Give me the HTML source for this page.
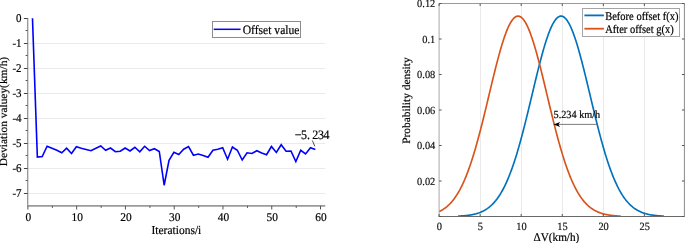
<!DOCTYPE html>
<html><head><meta charset="utf-8"><style>
html,body{margin:0;padding:0;background:#fff;}
body{width:685px;height:243px;overflow:hidden;}
svg{will-change:transform;display:block;font-family:"Liberation Serif",serif;}
text{stroke-width:0.18px;text-rendering:geometricPrecision;}
</style></head><body>
<svg width="685" height="243" viewBox="0 0 685 243">
<line x1="27.60" y1="43.5" x2="325.20" y2="43.5" stroke="#eaeaea" stroke-width="1"/>
<line x1="27.60" y1="68.5" x2="325.20" y2="68.5" stroke="#eaeaea" stroke-width="1"/>
<line x1="27.60" y1="93.5" x2="325.20" y2="93.5" stroke="#eaeaea" stroke-width="1"/>
<line x1="27.60" y1="118.5" x2="325.20" y2="118.5" stroke="#eaeaea" stroke-width="1"/>
<line x1="27.60" y1="143.5" x2="325.20" y2="143.5" stroke="#eaeaea" stroke-width="1"/>
<line x1="27.60" y1="168.5" x2="325.20" y2="168.5" stroke="#eaeaea" stroke-width="1"/>
<line x1="27.60" y1="193.5" x2="325.20" y2="193.5" stroke="#eaeaea" stroke-width="1"/>
<line x1="27.70" y1="18.00" x2="27.70" y2="205.90" stroke="#949494" stroke-width="1.3"/>
<line x1="27.00" y1="205.90" x2="325.20" y2="205.90" stroke="#9a9a9a" stroke-width="1.6"/>
<line x1="23.90" y1="18.5" x2="27.60" y2="18.5" stroke="#444" stroke-width="1"/>
<text transform="translate(21.60,22.40) scale(1,1.08)" font-size="11" text-anchor="end" fill="#000" stroke="#000" stroke-width="0.05">0</text>
<line x1="23.90" y1="43.5" x2="27.60" y2="43.5" stroke="#444" stroke-width="1"/>
<text transform="translate(21.60,47.40) scale(1,1.08)" font-size="11" text-anchor="end" fill="#000" stroke="#000" stroke-width="0.05">1</text>
<text transform="translate(16.10,47.40) scale(1,1.08)" font-size="11" text-anchor="end" fill="#000" stroke="#000" stroke-width="0.05">-</text>
<line x1="23.90" y1="68.5" x2="27.60" y2="68.5" stroke="#444" stroke-width="1"/>
<text transform="translate(21.60,72.40) scale(1,1.08)" font-size="11" text-anchor="end" fill="#000" stroke="#000" stroke-width="0.05">2</text>
<text transform="translate(16.10,72.40) scale(1,1.08)" font-size="11" text-anchor="end" fill="#000" stroke="#000" stroke-width="0.05">-</text>
<line x1="23.90" y1="93.5" x2="27.60" y2="93.5" stroke="#444" stroke-width="1"/>
<text transform="translate(21.60,97.40) scale(1,1.08)" font-size="11" text-anchor="end" fill="#000" stroke="#000" stroke-width="0.05">3</text>
<text transform="translate(16.10,97.40) scale(1,1.08)" font-size="11" text-anchor="end" fill="#000" stroke="#000" stroke-width="0.05">-</text>
<line x1="23.90" y1="118.5" x2="27.60" y2="118.5" stroke="#444" stroke-width="1"/>
<text transform="translate(21.60,122.40) scale(1,1.08)" font-size="11" text-anchor="end" fill="#000" stroke="#000" stroke-width="0.05">4</text>
<text transform="translate(16.10,122.40) scale(1,1.08)" font-size="11" text-anchor="end" fill="#000" stroke="#000" stroke-width="0.05">-</text>
<line x1="23.90" y1="143.5" x2="27.60" y2="143.5" stroke="#444" stroke-width="1"/>
<text transform="translate(21.60,147.40) scale(1,1.08)" font-size="11" text-anchor="end" fill="#000" stroke="#000" stroke-width="0.05">5</text>
<text transform="translate(16.10,147.40) scale(1,1.08)" font-size="11" text-anchor="end" fill="#000" stroke="#000" stroke-width="0.05">-</text>
<line x1="23.90" y1="168.5" x2="27.60" y2="168.5" stroke="#444" stroke-width="1"/>
<text transform="translate(21.60,172.40) scale(1,1.08)" font-size="11" text-anchor="end" fill="#000" stroke="#000" stroke-width="0.05">6</text>
<text transform="translate(16.10,172.40) scale(1,1.08)" font-size="11" text-anchor="end" fill="#000" stroke="#000" stroke-width="0.05">-</text>
<line x1="23.90" y1="193.5" x2="27.60" y2="193.5" stroke="#444" stroke-width="1"/>
<text transform="translate(21.60,197.40) scale(1,1.08)" font-size="11" text-anchor="end" fill="#000" stroke="#000" stroke-width="0.05">7</text>
<text transform="translate(16.10,197.40) scale(1,1.08)" font-size="11" text-anchor="end" fill="#000" stroke="#000" stroke-width="0.05">-</text>
<line x1="25.60" y1="30.5" x2="27.60" y2="30.5" stroke="#555" stroke-width="1"/>
<line x1="25.60" y1="55.5" x2="27.60" y2="55.5" stroke="#555" stroke-width="1"/>
<line x1="25.60" y1="80.5" x2="27.60" y2="80.5" stroke="#555" stroke-width="1"/>
<line x1="25.60" y1="105.5" x2="27.60" y2="105.5" stroke="#555" stroke-width="1"/>
<line x1="25.60" y1="130.5" x2="27.60" y2="130.5" stroke="#555" stroke-width="1"/>
<line x1="25.60" y1="155.5" x2="27.60" y2="155.5" stroke="#555" stroke-width="1"/>
<line x1="25.60" y1="180.5" x2="27.60" y2="180.5" stroke="#555" stroke-width="1"/>
<line x1="27.90" y1="205.90" x2="27.90" y2="209.50" stroke="#555" stroke-width="1"/>
<text transform="translate(28.40,221.20) scale(1,1.04)" font-size="11.4" text-anchor="middle" fill="#000" stroke="#000" stroke-width="0.05">0</text>
<line x1="76.67" y1="205.90" x2="76.67" y2="209.50" stroke="#555" stroke-width="1"/>
<text transform="translate(77.17,221.20) scale(1,1.04)" font-size="11.4" text-anchor="middle" fill="#000" stroke="#000" stroke-width="0.05">10</text>
<line x1="125.44" y1="205.90" x2="125.44" y2="209.50" stroke="#555" stroke-width="1"/>
<text transform="translate(125.94,221.20) scale(1,1.04)" font-size="11.4" text-anchor="middle" fill="#000" stroke="#000" stroke-width="0.05">20</text>
<line x1="174.21" y1="205.90" x2="174.21" y2="209.50" stroke="#555" stroke-width="1"/>
<text transform="translate(174.71,221.20) scale(1,1.04)" font-size="11.4" text-anchor="middle" fill="#000" stroke="#000" stroke-width="0.05">30</text>
<line x1="222.98" y1="205.90" x2="222.98" y2="209.50" stroke="#555" stroke-width="1"/>
<text transform="translate(223.48,221.20) scale(1,1.04)" font-size="11.4" text-anchor="middle" fill="#000" stroke="#000" stroke-width="0.05">40</text>
<line x1="271.75" y1="205.90" x2="271.75" y2="209.50" stroke="#555" stroke-width="1"/>
<text transform="translate(272.25,221.20) scale(1,1.04)" font-size="11.4" text-anchor="middle" fill="#000" stroke="#000" stroke-width="0.05">50</text>
<line x1="320.52" y1="205.90" x2="320.52" y2="209.50" stroke="#555" stroke-width="1"/>
<text transform="translate(321.02,221.20) scale(1,1.04)" font-size="11.4" text-anchor="middle" fill="#000" stroke="#000" stroke-width="0.05">60</text>
<line x1="52.38" y1="205.90" x2="52.38" y2="207.90" stroke="#555" stroke-width="1"/>
<line x1="101.16" y1="205.90" x2="101.16" y2="207.90" stroke="#555" stroke-width="1"/>
<line x1="149.93" y1="205.90" x2="149.93" y2="207.90" stroke="#555" stroke-width="1"/>
<line x1="198.69" y1="205.90" x2="198.69" y2="207.90" stroke="#555" stroke-width="1"/>
<line x1="247.47" y1="205.90" x2="247.47" y2="207.90" stroke="#555" stroke-width="1"/>
<line x1="296.24" y1="205.90" x2="296.24" y2="207.90" stroke="#555" stroke-width="1"/>
<text transform="translate(176.40,234.10) scale(1,1.06)" font-size="11.5" text-anchor="middle" fill="#000" stroke="#000">Iterations/i</text>
<text transform="translate(7.30,111.50) scale(1,1.02) rotate(-90)" font-size="11.2" text-anchor="middle" fill="#000" stroke="#000">Deviation valuey(km/h)</text>
<polyline points="32.48,18.25 37.35,157.00 42.23,156.50 47.11,146.25 51.98,148.25 56.86,150.25 61.74,152.75 66.62,148.25 71.49,153.50 76.37,146.75 81.25,148.25 86.12,149.50 91.00,150.75 95.88,148.25 100.75,146.00 105.63,150.25 110.51,148.00 115.39,151.75 120.26,151.25 125.14,148.00 130.02,151.00 134.89,147.25 139.77,151.75 144.65,146.25 149.53,150.50 154.40,148.75 159.28,151.50 164.16,185.25 169.03,160.25 173.91,152.25 178.79,154.50 183.66,149.25 188.54,146.50 193.42,155.25 198.29,154.00 203.17,155.50 208.05,157.25 212.93,150.25 217.80,149.25 222.68,147.75 227.56,159.25 232.43,147.00 237.31,150.25 242.19,160.00 247.06,152.75 251.94,153.50 256.82,150.75 261.70,153.00 266.57,154.75 271.45,146.50 276.33,152.50 281.20,144.75 286.08,151.25 290.96,151.00 295.84,161.50 300.71,150.25 305.59,154.00 310.47,147.75 315.34,149.50" fill="none" stroke="#0000ff" stroke-width="1.6" stroke-linejoin="miter"/>
<rect x="212.5" y="21.5" width="88" height="16" fill="#fff" stroke="#8c8c8c" stroke-width="1"/>
<line x1="213.7" y1="29.3" x2="240.6" y2="29.3" stroke="#0000ff" stroke-width="1.5"/>
<text transform="translate(242.70,33.80) scale(1,1.1)" font-size="11.6" fill="#000" stroke="#000">Offset value</text>
<line x1="312.4" y1="140.5" x2="314.8" y2="146.3" stroke="#222" stroke-width="0.8"/>
<g transform="translate(0,139) scale(1,1.07)"><text y="0" font-size="12" stroke="#000" stroke-width="0.3"><tspan x="294.8">&#8722;</tspan><tspan x="301.1">5</tspan><tspan x="307.1">.</tspan><tspan x="312.3">2</tspan><tspan x="318.1">3</tspan><tspan x="323.6">4</tspan></text></g>
<line x1="480.5" y1="3.50" x2="480.5" y2="216.50" stroke="#eaeaea" stroke-width="1"/>
<line x1="521.5" y1="3.50" x2="521.5" y2="216.50" stroke="#eaeaea" stroke-width="1"/>
<line x1="562.5" y1="3.50" x2="562.5" y2="216.50" stroke="#eaeaea" stroke-width="1"/>
<line x1="603.5" y1="3.50" x2="603.5" y2="216.50" stroke="#eaeaea" stroke-width="1"/>
<line x1="644.5" y1="3.50" x2="644.5" y2="216.50" stroke="#eaeaea" stroke-width="1"/>
<polyline points="458.07,216.13 458.75,216.10 459.44,216.06 460.12,216.03 460.81,215.99 461.50,215.94 462.18,215.90 462.87,215.85 463.55,215.79 464.24,215.73 464.93,215.67 465.61,215.60 466.30,215.53 466.98,215.45 467.67,215.37 468.36,215.28 469.04,215.19 469.73,215.08 470.41,214.98 471.10,214.86 471.79,214.73 472.47,214.60 473.16,214.46 473.84,214.31 474.53,214.15 475.22,213.98 475.90,213.80 476.59,213.60 477.28,213.40 477.96,213.18 478.65,212.95 479.33,212.70 480.02,212.44 480.71,212.16 481.39,211.87 482.08,211.56 482.76,211.24 483.45,210.89 484.14,210.53 484.82,210.14 485.51,209.73 486.19,209.31 486.88,208.86 487.57,208.38 488.25,207.88 488.94,207.36 489.62,206.81 490.31,206.23 491.00,205.62 491.68,204.99 492.37,204.32 493.06,203.62 493.74,202.90 494.43,202.13 495.11,201.33 495.80,200.50 496.49,199.63 497.17,198.73 497.86,197.78 498.54,196.80 499.23,195.77 499.92,194.71 500.60,193.60 501.29,192.45 501.97,191.26 502.66,190.02 503.35,188.74 504.03,187.41 504.72,186.03 505.40,184.61 506.09,183.14 506.78,181.62 507.46,180.06 508.15,178.44 508.84,176.77 509.52,175.06 510.21,173.29 510.89,171.48 511.58,169.61 512.27,167.70 512.95,165.73 513.64,163.72 514.32,161.65 515.01,159.54 515.70,157.38 516.38,155.17 517.07,152.92 517.75,150.61 518.44,148.27 519.13,145.88 519.81,143.44 520.50,140.97 521.18,138.45 521.87,135.90 522.56,133.31 523.24,130.68 523.93,128.02 524.62,125.33 525.30,122.61 525.99,119.86 526.67,117.09 527.36,114.29 528.05,111.48 528.73,108.64 529.42,105.80 530.10,102.94 530.79,100.07 531.48,97.20 532.16,94.33 532.85,91.45 533.53,88.58 534.22,85.72 534.91,82.87 535.59,80.03 536.28,77.21 536.96,74.41 537.65,71.64 538.34,68.89 539.02,66.18 539.71,63.50 540.39,60.86 541.08,58.27 541.77,55.72 542.45,53.22 543.14,50.78 543.83,48.39 544.51,46.06 545.20,43.80 545.88,41.61 546.57,39.49 547.26,37.44 547.94,35.47 548.63,33.58 549.31,31.77 550.00,30.05 550.69,28.42 551.37,26.88 552.06,25.44 552.74,24.09 553.43,22.84 554.12,21.70 554.80,20.65 555.49,19.71 556.17,18.88 556.86,18.15 557.55,17.53 558.23,17.02 558.92,16.63 559.61,16.34 560.29,16.17 560.98,16.10 561.66,16.15 562.35,16.31 563.04,16.59 563.72,16.97 564.41,17.47 565.09,18.07 565.78,18.78 566.47,19.61 567.15,20.53 567.84,21.57 568.52,22.70 569.21,23.94 569.90,25.27 570.58,26.71 571.27,28.23 571.95,29.85 572.64,31.56 573.33,33.36 574.01,35.24 574.70,37.20 575.39,39.24 576.07,41.35 576.76,43.54 577.44,45.79 578.13,48.11 578.82,50.49 579.50,52.92 580.19,55.42 580.87,57.96 581.56,60.55 582.25,63.18 582.93,65.86 583.62,68.57 584.30,71.31 584.99,74.08 585.68,76.87 586.36,79.69 587.05,82.53 587.73,85.38 588.42,88.24 589.11,91.11 589.79,93.98 590.48,96.86 591.17,99.73 591.85,102.60 592.54,105.46 593.22,108.30 593.91,111.14 594.60,113.96 595.28,116.75 595.97,119.53 596.65,122.28 597.34,125.00 598.03,127.70 598.71,130.36 599.40,132.99 600.08,135.59 600.77,138.15 601.46,140.67 602.14,143.15 602.83,145.59 603.51,147.98 604.20,150.34 604.89,152.64 605.57,154.90 606.26,157.12 606.94,159.29 607.63,161.40 608.32,163.47 609.00,165.49 609.69,167.47 610.38,169.39 611.06,171.26 611.75,173.08 612.43,174.85 613.12,176.57 613.81,178.24 614.49,179.87 615.18,181.44 615.86,182.96 616.55,184.44 617.24,185.87 617.92,187.25 618.61,188.58 619.29,189.87 619.98,191.11 620.67,192.31 621.35,193.47 622.04,194.58 622.72,195.65 623.41,196.68 624.10,197.67 624.78,198.61 625.47,199.53 626.16,200.40 626.84,201.24 627.53,202.04 628.21,202.81 628.90,203.54 629.59,204.24 630.27,204.91 630.96,205.55 631.64,206.16 632.33,206.74 633.02,207.30 633.70,207.82 634.39,208.32 635.07,208.80 635.76,209.25 636.45,209.68 637.13,210.09 637.82,210.48 638.50,210.85 639.19,211.19 639.88,211.52 640.56,211.84 641.25,212.13 641.94,212.41 642.62,212.67 643.31,212.92 643.99,213.15 644.68,213.37 645.37,213.58 646.05,213.77 646.74,213.96 647.42,214.13 648.11,214.29 648.80,214.44 649.48,214.59 650.17,214.72 650.85,214.84 651.54,214.96 652.23,215.07 652.91,215.17 653.60,215.27 654.28,215.36 654.97,215.44 655.66,215.52 656.34,215.60 657.03,215.66 657.72,215.73 658.40,215.79 659.09,215.84 659.77,215.89 660.46,215.94 661.15,215.98 661.83,216.02 662.52,216.06 663.20,216.10 663.89,216.13" fill="none" stroke="#0072BD" stroke-width="1.65"/>
<polyline points="439.10,211.57 439.71,211.28 440.31,210.98 440.92,210.66 441.52,210.33 442.13,209.98 442.73,209.62 443.34,209.23 443.94,208.83 444.55,208.42 445.15,207.98 445.76,207.52 446.36,207.04 446.97,206.55 447.57,206.03 448.18,205.48 448.79,204.92 449.39,204.33 450.00,203.72 450.60,203.08 451.21,202.41 451.81,201.72 452.42,201.00 453.02,200.26 453.63,199.48 454.23,198.68 454.84,197.85 455.44,196.98 456.05,196.09 456.66,195.16 457.26,194.20 457.87,193.21 458.47,192.19 459.08,191.13 459.68,190.03 460.29,188.91 460.89,187.74 461.50,186.54 462.10,185.30 462.71,184.03 463.31,182.72 463.92,181.37 464.52,179.98 465.13,178.55 465.74,177.09 466.34,175.59 466.95,174.05 467.55,172.47 468.16,170.85 468.76,169.19 469.37,167.49 469.97,165.76 470.58,163.98 471.18,162.17 471.79,160.32 472.39,158.43 473.00,156.50 473.60,154.54 474.21,152.54 474.82,150.50 475.42,148.43 476.03,146.33 476.63,144.19 477.24,142.02 477.84,139.82 478.45,137.58 479.05,135.32 479.66,133.03 480.26,130.71 480.87,128.37 481.47,126.00 482.08,123.60 482.69,121.19 483.29,118.75 483.90,116.30 484.50,113.83 485.11,111.34 485.71,108.85 486.32,106.34 486.92,103.82 487.53,101.29 488.13,98.76 488.74,96.22 489.34,93.68 489.95,91.15 490.55,88.62 491.16,86.09 491.77,83.57 492.37,81.06 492.98,78.57 493.58,76.09 494.19,73.63 494.79,71.18 495.40,68.76 496.00,66.37 496.61,64.00 497.21,61.67 497.82,59.36 498.42,57.09 499.03,54.86 499.64,52.67 500.24,50.52 500.85,48.42 501.45,46.36 502.06,44.36 502.66,42.40 503.27,40.50 503.87,38.66 504.48,36.87 505.08,35.15 505.69,33.49 506.29,31.90 506.90,30.37 507.50,28.91 508.11,27.53 508.72,26.21 509.32,24.97 509.93,23.81 510.53,22.72 511.14,21.71 511.74,20.78 512.35,19.94 512.95,19.17 513.56,18.49 514.16,17.89 514.77,17.38 515.37,16.95 515.98,16.61 516.58,16.36 517.19,16.19 517.80,16.11 518.40,16.12 519.01,16.21 519.61,16.39 520.22,16.66 520.82,17.02 521.43,17.46 522.03,17.99 522.64,18.60 523.24,19.29 523.85,20.07 524.45,20.93 525.06,21.87 525.67,22.90 526.27,24.00 526.88,25.17 527.48,26.43 528.09,27.75 528.69,29.15 529.30,30.62 529.90,32.16 530.51,33.77 531.11,35.44 531.72,37.17 532.32,38.96 532.93,40.82 533.53,42.73 534.14,44.69 534.75,46.70 535.35,48.77 535.96,50.88 536.56,53.04 537.17,55.23 537.77,57.47 538.38,59.75 538.98,62.06 539.59,64.40 540.19,66.77 540.80,69.17 541.40,71.59 542.01,74.04 542.61,76.50 543.22,78.99 543.83,81.49 544.43,84.00 545.04,86.52 545.64,89.04 546.25,91.58 546.85,94.11 547.46,96.65 548.06,99.18 548.67,101.71 549.27,104.24 549.88,106.76 550.48,109.27 551.09,111.76 551.70,114.25 552.30,116.71 552.91,119.16 553.51,121.60 554.12,124.01 554.72,126.40 555.33,128.76 555.93,131.10 556.54,133.42 557.14,135.70 557.75,137.96 558.35,140.19 558.96,142.39 559.56,144.55 560.17,146.69 560.78,148.78 561.38,150.85 561.99,152.88 562.59,154.87 563.20,156.83 563.80,158.75 564.41,160.63 565.01,162.48 565.62,164.28 566.22,166.05 566.83,167.78 567.43,169.47 568.04,171.12 568.65,172.73 569.25,174.31 569.86,175.84 570.46,177.34 571.07,178.80 571.67,180.22 572.28,181.60 572.88,182.94 573.49,184.25 574.09,185.51 574.70,186.74 575.30,187.94 575.91,189.10 576.51,190.22 577.12,191.31 577.73,192.36 578.33,193.38 578.94,194.37 579.54,195.32 580.15,196.24 580.75,197.13 581.36,197.99 581.96,198.82 582.57,199.62 583.17,200.39 583.78,201.13 584.38,201.84 584.99,202.53 585.59,203.19 586.20,203.82 586.81,204.43 587.41,205.02 588.02,205.58 588.62,206.12 589.23,206.63 589.83,207.13 590.44,207.60 591.04,208.05 591.65,208.49 592.25,208.90 592.86,209.30 593.46,209.68 594.07,210.04 594.68,210.38 595.28,210.71 595.89,211.03 596.49,211.33 597.10,211.61 597.70,211.88 598.31,212.14 598.91,212.39 599.52,212.62 600.12,212.84 600.73,213.05 601.33,213.25 601.94,213.44 602.54,213.62 603.15,213.79 603.76,213.95 604.36,214.11 604.97,214.25 605.57,214.39 606.18,214.52 606.78,214.64 607.39,214.75 607.99,214.86 608.60,214.97 609.20,215.06 609.81,215.16 610.41,215.24 611.02,215.32 611.62,215.40 612.23,215.47 612.84,215.54 613.44,215.60 614.05,215.66 614.65,215.72 615.26,215.77 615.86,215.82 616.47,215.87 617.07,215.91 617.68,215.95 618.28,215.99 618.89,216.02 619.49,216.06 620.10,216.09 620.71,216.12" fill="none" stroke="#D95319" stroke-width="1.65"/>
<line x1="439.10" y1="3.50" x2="439.10" y2="216.50" stroke="#a8a8a8" stroke-width="1"/>
<line x1="438.60" y1="216.50" x2="684.40" y2="216.50" stroke="#6a6a6a" stroke-width="1"/>
<line x1="439.10" y1="3.50" x2="684.40" y2="3.50" stroke="#9a9a9a" stroke-width="1"/>
<line x1="684.40" y1="3.50" x2="684.40" y2="216.50" stroke="#8a8a8a" stroke-width="1"/>
<line x1="439.10" y1="216.50" x2="441.60" y2="216.50" stroke="#555" stroke-width="1"/>
<line x1="681.90" y1="216.50" x2="684.40" y2="216.50" stroke="#555" stroke-width="1"/>
<line x1="439.10" y1="181.01" x2="441.60" y2="181.01" stroke="#555" stroke-width="1"/>
<line x1="681.90" y1="181.01" x2="684.40" y2="181.01" stroke="#555" stroke-width="1"/>
<text transform="translate(435.30,184.81) scale(1,1.04)" font-size="10.4" text-anchor="end" fill="#111" stroke="#111" stroke-width="0.05">0.02</text>
<line x1="439.10" y1="145.51" x2="441.60" y2="145.51" stroke="#555" stroke-width="1"/>
<line x1="681.90" y1="145.51" x2="684.40" y2="145.51" stroke="#555" stroke-width="1"/>
<text transform="translate(435.30,149.31) scale(1,1.04)" font-size="10.4" text-anchor="end" fill="#111" stroke="#111" stroke-width="0.05">0.04</text>
<line x1="439.10" y1="110.02" x2="441.60" y2="110.02" stroke="#555" stroke-width="1"/>
<line x1="681.90" y1="110.02" x2="684.40" y2="110.02" stroke="#555" stroke-width="1"/>
<text transform="translate(435.30,113.82) scale(1,1.04)" font-size="10.4" text-anchor="end" fill="#111" stroke="#111" stroke-width="0.05">0.06</text>
<line x1="439.10" y1="74.52" x2="441.60" y2="74.52" stroke="#555" stroke-width="1"/>
<line x1="681.90" y1="74.52" x2="684.40" y2="74.52" stroke="#555" stroke-width="1"/>
<text transform="translate(435.30,78.32) scale(1,1.04)" font-size="10.4" text-anchor="end" fill="#111" stroke="#111" stroke-width="0.05">0.08</text>
<line x1="439.10" y1="39.03" x2="441.60" y2="39.03" stroke="#555" stroke-width="1"/>
<line x1="681.90" y1="39.03" x2="684.40" y2="39.03" stroke="#555" stroke-width="1"/>
<text transform="translate(435.30,42.83) scale(1,1.04)" font-size="10.4" text-anchor="end" fill="#111" stroke="#111" stroke-width="0.05">0.1</text>
<line x1="439.10" y1="3.54" x2="441.60" y2="3.54" stroke="#555" stroke-width="1"/>
<line x1="681.90" y1="3.54" x2="684.40" y2="3.54" stroke="#555" stroke-width="1"/>
<text transform="translate(435.30,7.34) scale(1,1.04)" font-size="10.4" text-anchor="end" fill="#111" stroke="#111" stroke-width="0.05">0.12</text>
<line x1="439.10" y1="216.50" x2="439.10" y2="214.00" stroke="#555" stroke-width="1"/>
<line x1="439.10" y1="3.50" x2="439.10" y2="6.00" stroke="#555" stroke-width="1"/>
<text transform="translate(439.40,229.70) scale(1,1.06)" font-size="10.4" text-anchor="middle" fill="#111" stroke="#111" stroke-width="0.05">0</text>
<line x1="480.15" y1="216.50" x2="480.15" y2="214.00" stroke="#555" stroke-width="1"/>
<line x1="480.15" y1="3.50" x2="480.15" y2="6.00" stroke="#555" stroke-width="1"/>
<text transform="translate(480.45,229.70) scale(1,1.06)" font-size="10.4" text-anchor="middle" fill="#111" stroke="#111" stroke-width="0.05">5</text>
<line x1="521.20" y1="216.50" x2="521.20" y2="214.00" stroke="#555" stroke-width="1"/>
<line x1="521.20" y1="3.50" x2="521.20" y2="6.00" stroke="#555" stroke-width="1"/>
<text transform="translate(521.50,229.70) scale(1,1.06)" font-size="10.4" text-anchor="middle" fill="#111" stroke="#111" stroke-width="0.05">10</text>
<line x1="562.25" y1="216.50" x2="562.25" y2="214.00" stroke="#555" stroke-width="1"/>
<line x1="562.25" y1="3.50" x2="562.25" y2="6.00" stroke="#555" stroke-width="1"/>
<text transform="translate(562.55,229.70) scale(1,1.06)" font-size="10.4" text-anchor="middle" fill="#111" stroke="#111" stroke-width="0.05">15</text>
<line x1="603.30" y1="216.50" x2="603.30" y2="214.00" stroke="#555" stroke-width="1"/>
<line x1="603.30" y1="3.50" x2="603.30" y2="6.00" stroke="#555" stroke-width="1"/>
<text transform="translate(603.60,229.70) scale(1,1.06)" font-size="10.4" text-anchor="middle" fill="#111" stroke="#111" stroke-width="0.05">20</text>
<line x1="644.35" y1="216.50" x2="644.35" y2="214.00" stroke="#555" stroke-width="1"/>
<line x1="644.35" y1="3.50" x2="644.35" y2="6.00" stroke="#555" stroke-width="1"/>
<text transform="translate(644.65,229.70) scale(1,1.06)" font-size="10.4" text-anchor="middle" fill="#111" stroke="#111" stroke-width="0.05">25</text>
<line x1="685.40" y1="216.50" x2="685.40" y2="214.00" stroke="#555" stroke-width="1"/>
<line x1="685.40" y1="3.50" x2="685.40" y2="6.00" stroke="#555" stroke-width="1"/>
<text transform="translate(556.40,240.60) scale(1,1.06)" font-size="11.2" text-anchor="middle" fill="#000" stroke="#000">&#916;V(km/h)</text>
<text transform="translate(410.30,100.60) scale(1,1.02) rotate(-90)" font-size="11.2" text-anchor="middle" fill="#000" stroke="#000">Probability density</text>
<rect x="582.5" y="8.5" width="97" height="28" fill="#fff" stroke="#a5a5a5" stroke-width="1"/>
<line x1="584.4" y1="15.4" x2="603.9" y2="15.4" stroke="#0072BD" stroke-width="1.8"/>
<line x1="584.4" y1="28.7" x2="603.9" y2="28.7" stroke="#D95319" stroke-width="1.8"/>
<text transform="translate(605.20,19.60) scale(1,1.12)" font-size="10.5" fill="#000" stroke="#000">Before offset f(x)</text>
<text transform="translate(605.20,32.90) scale(1,1.12)" font-size="10.5" fill="#000" stroke="#000">After offset g(x)</text>
<text transform="translate(553.50,118.00) scale(1,1.06)" font-size="10.25" fill="#000" stroke="#000">5.234 km/h</text>
<line x1="557" y1="124.4" x2="596.7" y2="124.4" stroke="#666" stroke-width="0.85"/>
<path d="M553.5,124.4 L560.1,121.9 L558.4,124.4 L560.1,126.9 Z" fill="#000"/>
</svg></body></html>
